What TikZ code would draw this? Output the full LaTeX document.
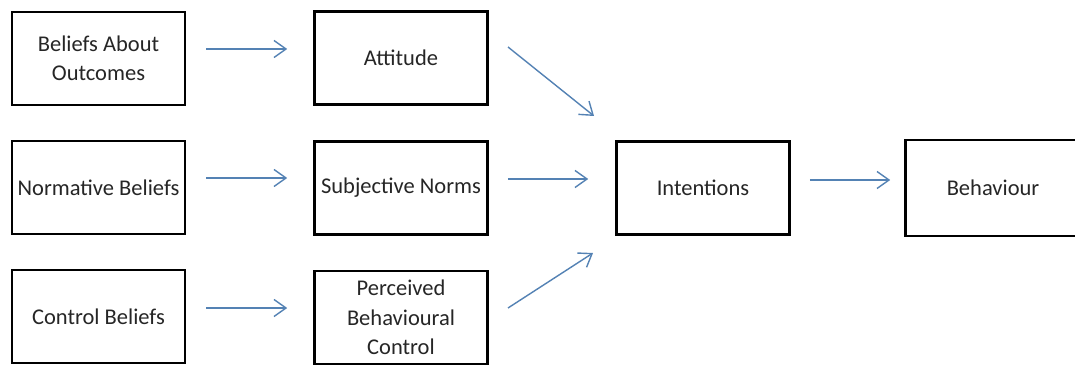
\documentclass[tikz,border=0pt]{standalone}
\usepackage{fontspec}
\setmainfont{Carlito}
\usetikzlibrary{arrows.meta}
\definecolor{arrowblue}{RGB}{84,130,180}
\definecolor{txt}{RGB}{38,38,38}
\begin{document}
\begin{tikzpicture}[x=1pt,y=-1pt,
  box/.style={draw=black,line width=2.6pt,minimum width=173pt,minimum height=93pt,
    inner sep=0pt,align=center,text=txt,font=\fontsize{22.5}{29.5}\selectfont},
  conn/.style={draw=arrowblue,line width=1.4pt,
    -{Straight Barb[length=12pt,width=17pt,line width=1.4pt]}}]
\useasboundingbox (0,0) rectangle (1075,366);
\clip (0,0) rectangle (1075,366);
\fill[white] (0,0) rectangle (1075,366);
% column 1
\node[box] (bao) at (98.5,58.5) {Beliefs About\\Outcomes};
\node[box] (nb) at (98.5,187.5) {Normative Beliefs};
\node[box] (cb) at (98.5,316.5) {Control Beliefs};
% column 2
\node[box] (att) at (401,58) {Attitude};
\node[box] (sn) at (401,188) {Subjective Norms};
\node[box] (pbc) at (401,317.5) {Perceived\\Behavioural\\Control};
% intentions / behaviour
\node[box] (int) at (703,188) {Intentions};
\node[box,draw=none] (beh) at (993,188) {Behaviour};
\draw[line width=2.6pt] ([xshift=20pt]beh.north east) -- (beh.north west) -- (beh.south west) -- ([xshift=20pt]beh.south east);
% connectors
\draw[conn,shorten <=20pt,shorten >=26pt] (bao.east |- 0,49) -- (att.west |- 0,49);
\draw[conn,shorten <=20pt,shorten >=26pt] (nb.east |- 0,178) -- (sn.west |- 0,178);
\draw[conn,shorten <=20pt,shorten >=26pt] (cb.east |- 0,308) -- (pbc.west |- 0,308);
\coordinate (a1s) at (508,47);
\coordinate (a1e) at (594,116);
\coordinate (a3s) at (508,308);
\coordinate (a3e) at (593,253);
\draw[conn] (a1s) -- (a1e);
\draw[conn,shorten <=19pt,shorten >=27pt] (sn.east |- 0,179) -- (int.west |- 0,179);
\draw[conn] (a3s) -- (a3e);
\draw[conn,shorten <=19pt,shorten >=15pt] (int.east |- 0,180) -- (beh.west |- 0,180);
\end{tikzpicture}
\end{document}
